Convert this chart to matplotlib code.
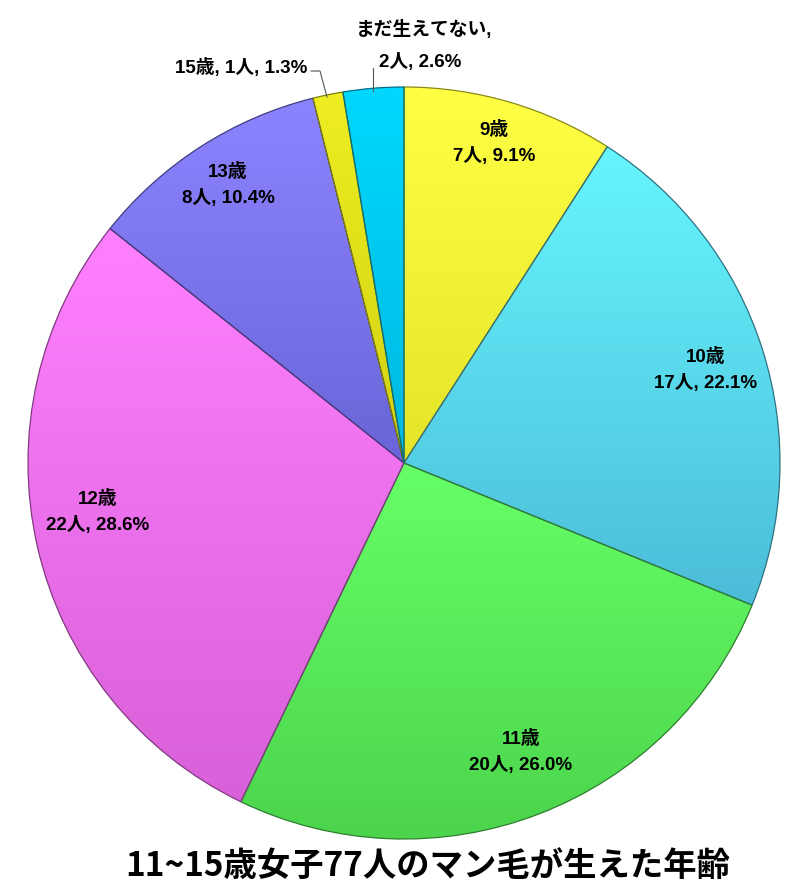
import numpy as np
import matplotlib.pyplot as plt
from matplotlib.colors import LinearSegmentedColormap, to_rgb

plt.rcParams['font.family'] = ['Liberation Sans', 'Noto Sans CJK JP']

labels = ['9歳', '10歳', '11歳', '12歳', '13歳', '15歳', 'まだ生えてない,']
counts = [7, 17, 20, 22, 8, 1, 2]
top_colors = ['#ffff44', '#66f6ff', '#66ff66', '#ff80ff', '#8c84ff', '#eeee22', '#00d8ff']
bottom_colors = ['#e4e428', '#4cbcd8', '#4cd44c', '#d860d8', '#6a64d8', '#d0d010', '#00b8e0']
title = '11~15歳女子77人のマン毛が生えた年齢'

total = sum(counts)

fig = plt.figure(figsize=(8.05, 8.93), dpi=100)
ax = fig.add_axes([0, 0, 1, 1])
ax.set_xlim(0, 805)
ax.set_ylim(0, 893)
ax.set_aspect('equal')
ax.axis('off')

cx, cy, r = 404, 430, 376
wedges, _ = ax.pie(counts, center=(cx, cy), radius=r, startangle=90,
                   counterclock=False, colors=top_colors,
                   wedgeprops=dict(linewidth=0.9))
ax.set_xlim(0, 805)
ax.set_ylim(0, 893)

# vertical gradient inside each slice
for w, c1, c2 in zip(wedges, top_colors, bottom_colors):
    bb = w.get_path().get_extents(w.get_transform())
    bb = bb.transformed(ax.transData.inverted())
    cmap = LinearSegmentedColormap.from_list('g', [to_rgb(c2), to_rgb(c1)])
    grad = np.linspace(0, 1, 256).reshape(-1, 1)
    im = ax.imshow(grad, cmap=cmap, origin='lower', aspect='auto',
                   extent=[bb.x0, bb.x1, bb.y0, bb.y1], zorder=1.5)
    im.set_clip_path(w)
    w.set_facecolor('none')
    w.set_edgecolor(tuple(v * 0.6 for v in to_rgb(c2)))
    w.set_zorder(2)
ax.set_xlim(0, 805)
ax.set_ylim(0, 893)

fs = 13.5
inside = {0: (494, 143), 1: (706, 370), 2: (521, 752), 3: (98, 512), 4: (228, 185)}
for i, (px, py) in inside.items():
    pct = counts[i] / total * 100
    ax.text(px, 893 - py, f'{labels[i]}\n{counts[i]}人, {pct:.1f}%', ha='center', va='center',
            fontsize=fs, fontweight='bold', linespacing=1.55, zorder=3)

# outside labels with leader lines
pct5 = counts[5] / total * 100
ax.text(307, 893 - 68, f'{labels[5]}, {counts[5]}人, {pct5:.1f}%', ha='right', va='center',
        fontsize=fs, fontweight='bold', zorder=3)
ax.plot([311, 320, 327], [893 - 71, 893 - 71, 893 - 97], color='#555555', lw=0.8, zorder=3)

pct6 = counts[6] / total * 100
ax.text(424, 893 - 30, labels[6], ha='center', va='center', fontsize=fs, fontweight='bold', zorder=3)
ax.text(420, 893 - 62, f'{counts[6]}人, {pct6:.1f}%', ha='center', va='center',
        fontsize=fs, fontweight='bold', zorder=3)
ax.plot([373, 373], [893 - 68, 893 - 91], color='#555555', lw=0.8, zorder=3)

ax.text(428, 893 - 866, title, ha='center', va='center', fontsize=24, fontweight='bold',
        family=['Noto Sans CJK JP'])

fig.savefig('out.png', dpi=100)
